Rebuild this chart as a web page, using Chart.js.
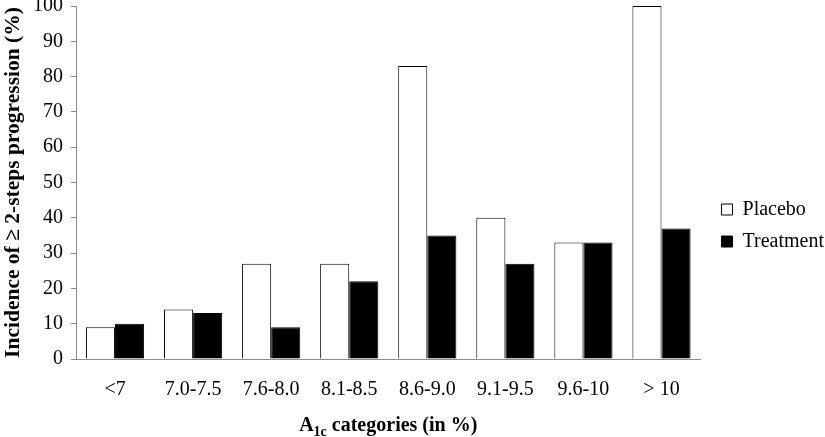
<!DOCTYPE html>
<html>
<head>
<meta charset="utf-8">
<script src="https://cdn.jsdelivr.net/npm/chart.js@4"></script>
<style>
  html, body { margin: 0; padding: 0; background: #fff; }
  #wrap { width: 825px; height: 437px; }
</style>
</head>
<body>
<div id="wrap"><canvas id="chart" width="825" height="437"></canvas></div>
<script>
const categories = ['<7', '7.0-7.5', '7.6-8.0', '8.1-8.5', '8.6-9.0', '9.1-9.5', '9.6-10', '> 10'];
const placebo = [9, 14, 27, 27, 83, 40, 33, 100];
const treatment = [10, 13, 9, 22, 35, 27, 33, 37];
const yTicks = [0, 10, 20, 30, 40, 50, 60, 70, 80, 90, 100];

const FONT = "'Liberation Serif', 'Times New Roman', serif";
const AXIS = '#8c8c8c';

// x title has a subscript, so it is drawn by hand under the axis
const xTitlePlugin = {
    id: 'xTitle',
    afterLayout(chart) {
        // legend sits a bit lower and further right than Chart.js puts it
        const lg = chart.legend;
        lg.top += 15; lg.bottom += 15;
        lg.left += 9; lg.right += 9;
    },
    afterDraw(chart) {
        const ctx = chart.ctx;
        const area = chart.chartArea;
        const parts = [
            { t: 'A', size: 20, dy: 0 },
            { t: '1c', size: 14, dy: 5 },
            { t: ' categories (in %)', size: 20, dy: 0 }
        ];
        ctx.save();
        ctx.fillStyle = '#000';
        ctx.textBaseline = 'alphabetic';
        let total = 0;
        parts.forEach(p => {
            ctx.font = `bold ${p.size}px ${FONT}`;
            p.w = ctx.measureText(p.t).width;
            total += p.w;
        });
        let x = (area.left + area.right) / 2 - total / 2;
        const y = 431;
        parts.forEach(p => {
            ctx.font = `bold ${p.size}px ${FONT}`;
            ctx.fillText(p.t, x, y + p.dy);
            x += p.w;
        });
        ctx.restore();
    }
};

new Chart(document.getElementById('chart').getContext('2d'), {
    type: 'bar',
    data: {
        labels: categories,
        datasets: [{
            label: 'Placebo',
            data: placebo,
            backgroundColor: '#ffffff',
            borderColor: '#000000',
            borderWidth: 1
        }, {
            label: 'Treatment',
            data: treatment,
            backgroundColor: '#000000',
            borderColor: '#000000',
            borderWidth: 1
        }]
    },
    options: {
        responsive: false,
        animation: false,
        layout: { padding: { top: 0, right: 0, bottom: 16, left: 0 } },
        datasets: { bar: { categoryPercentage: 0.745, barPercentage: 1 } },
        scales: {
            x: {
                grid: { display: false, drawTicks: false },
                border: { display: true, color: AXIS, width: 1 },
                ticks: { color: '#000', padding: 19, font: { family: FONT, size: 20 }, maxRotation: 0 }
            },
            y: {
                min: 0,
                max: 100,
                afterBuildTicks: s => { s.ticks = yTicks.map(v => ({ value: v })); },
                afterFit: s => { s.width = 76; s.paddingTop = 6; },
                grid: { drawOnChartArea: false, tickLength: 5, color: AXIS },
                border: { display: true, color: AXIS, width: 1 },
                ticks: { color: '#000', padding: 8, font: { family: FONT, size: 20 } },
                title: {
                    display: true,
                    text: 'Incidence of \u2265 2-steps progression (%)',
                    color: '#000',
                    padding: { top: 1, bottom: 4 },
                    font: { family: FONT, size: 21.5, weight: 'bold' }
                }
            }
        },
        plugins: {
            legend: {
                position: 'right',
                labels: {
                    color: '#000',
                    boxWidth: 11,
                    boxHeight: 11,
                    padding: 12,
                    font: { family: FONT, size: 20 }
                }
            },
            tooltip: { enabled: false }
        }
    },
    plugins: [xTitlePlugin]
});
</script>
</body>
</html>
